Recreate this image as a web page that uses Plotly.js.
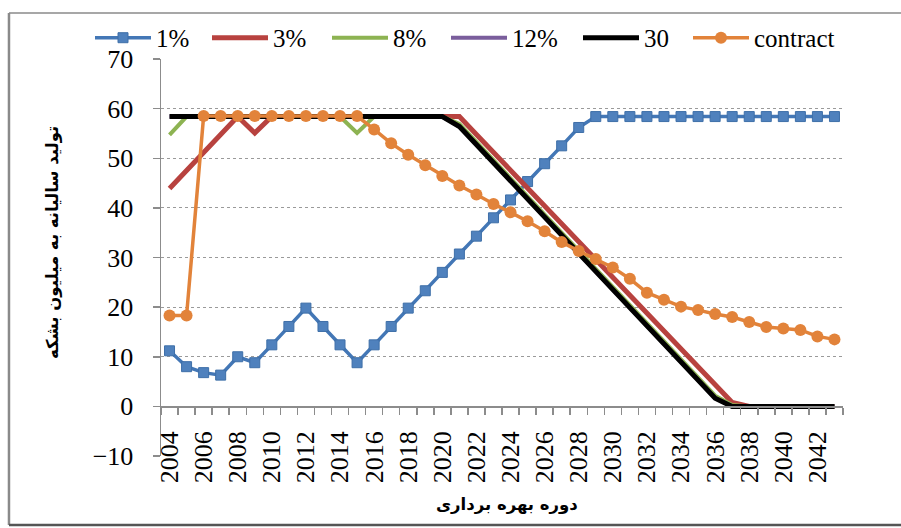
<!DOCTYPE html>
<html>
<head>
<meta charset="utf-8">
<script src="https://cdn.plot.ly/plotly-3.0.1.min.js"></script>
<style>html,body{margin:0;padding:0;background:#fff;}#chart{width:901px;height:528px;}</style>
</head>
<body>
<div id="chart"></div>
<script>
const years = [2004,2005,2006,2007,2008,2009,2010,2011,2012,2013,2014,2015,2016,2017,2018,2019,2020,2021,2022,2023,2024,2025,2026,2027,2028,2029,2030,2031,2032,2033,2034,2035,2036,2037,2038,2039,2040,2041,2042,2043];
const tickYears = [2004,2006,2008,2010,2012,2014,2016,2018,2020,2022,2024,2026,2028,2030,2032,2034,2036,2038,2040,2042];
const seriesNames = ['1%','3%','8%','12%','30','contract'];

const s1 = [11.2,8.0,6.8,6.3,10.0,8.8,12.4,16.1,19.8,16.1,12.4,8.8,12.4,16.1,19.8,23.3,27.0,30.7,34.3,38.0,41.6,45.3,48.9,52.5,56.2,58.4,58.4,58.4,58.4,58.4,58.4,58.4,58.4,58.4,58.4,58.4,58.4,58.4,58.4,58.4];
const s3 = [43.9,47.5,51.1,54.7,58.4,55.1,58.4,58.4,58.4,58.4,58.4,58.4,58.4,58.4,58.4,58.4,58.4,58.4,54.8,51.2,47.6,44.0,40.4,36.8,33.2,29.6,26.0,22.4,18.8,15.2,11.6,8.0,4.4,0.8,0,0,0,0,0,0];
const s8 = [54.7,58.4,58.4,58.4,58.4,58.4,58.4,58.4,58.4,58.4,58.4,55.1,58.4,58.4,58.4,58.4,58.4,56.9,53.25,49.6,45.95,42.3,38.65,35.0,31.35,27.7,24.05,20.4,16.75,13.1,9.45,5.8,2.15,0.3,0,0,0,0,0,0];
const s12 = [58.4,58.4,58.4,58.4,58.4,58.4,58.4,58.4,58.4,58.4,58.4,58.4,58.4,58.4,58.4,58.4,58.4,56.4,52.75,49.1,45.45,41.8,38.15,34.5,30.85,27.2,23.55,19.9,16.25,12.6,8.95,5.3,1.65,0,0,0,0,0,0,0];
const s30 = [58.4,58.4,58.4,58.4,58.4,58.4,58.4,58.4,58.4,58.4,58.4,58.4,58.4,58.4,58.4,58.4,58.4,56.4,52.75,49.1,45.45,41.8,38.15,34.5,30.85,27.2,23.55,19.9,16.25,12.6,8.95,5.3,1.65,0,0,0,0,0,0,0];
const contract = [18.3,18.3,58.5,58.5,58.5,58.5,58.5,58.5,58.5,58.5,58.5,58.5,55.8,53.0,50.7,48.6,46.4,44.5,42.7,40.8,39.1,37.3,35.3,33.1,31.3,29.7,28.0,25.7,22.9,21.5,20.1,19.4,18.6,18.0,17.0,16.0,15.7,15.4,14.1,13.5];

const serif = 'Liberation Serif, Times New Roman, serif';
const arab = 'DejaVu Sans, Noto Sans, sans-serif';

const traces = [
  {x: years, y: s1, name: seriesNames[0], legend: 'legend', mode: 'lines+markers', line: {color: '#4377B6', width: 3.5},
   marker: {symbol: 'square', size: 10, color: '#4F81BD', line: {color: '#3E6FA8', width: 1}}},
  {x: years, y: s3, name: seriesNames[1], legend: 'legend2', mode: 'lines', line: {color: '#B8423F', width: 5}},
  {x: years, y: s8, name: seriesNames[2], legend: 'legend3', mode: 'lines', line: {color: '#8DB352', width: 4}},
  {x: years, y: s12, name: seriesNames[3], legend: 'legend4', mode: 'lines', line: {color: '#7A5E9C', width: 4}},
  {x: years, y: s30, name: seriesNames[4], legend: 'legend5', mode: 'lines', line: {color: '#000000', width: 5}},
  {x: years, y: contract, name: seriesNames[5], legend: 'legend6', mode: 'lines+markers', line: {color: '#E2833A', width: 3.5},
   marker: {symbol: 'circle', size: 12, color: '#E2833A'}}
];

function leg(px) {
  return {orientation: 'h', x: (px - 161) / 682, xanchor: 'left', y: 1.053, yanchor: 'middle',
    font: {family: serif, size: 25, color: '#000'}, bgcolor: 'rgba(0,0,0,0)', itemwidth: 56};
}

const layout = {
  width: 901, height: 528,
  margin: {l: 161, r: 58, t: 59, b: 72, autoexpand: false},
  paper_bgcolor: '#ffffff', plot_bgcolor: '#ffffff',
  showlegend: true,
  legend: leg(90),
  legend2: leg(207),
  legend3: leg(327),
  legend4: leg(446),
  legend5: leg(578),
  legend6: leg(688),
  xaxis: {
    type: 'linear', range: [2003.5, 2043.5], anchor: 'free', position: 0.125,
    tickmode: 'array', tickvals: tickYears, ticktext: tickYears.map(String),
    tickangle: -90, ticks: 'outside', ticklen: 7, tickcolor: 'rgba(0,0,0,0)',
    ticklabelstandoff: 6,
    tickfont: {family: serif, size: 26, color: '#000'},
    minor: {tick0: 2003.5, dtick: 1, ticks: 'outside', ticklen: 7, tickcolor: '#8c8c8c', tickwidth: 1.5, showgrid: false},
    showline: true, linecolor: '#8c8c8c', linewidth: 1.5, showgrid: false, zeroline: false, fixedrange: true
  },
  yaxis: {
    range: [-10, 70], tickmode: 'linear', tick0: -10, dtick: 10,
    ticks: 'outside', ticklen: 7, tickcolor: '#8c8c8c', tickwidth: 1.5,
    ticklabelstandoff: 14,
    tickfont: {family: serif, size: 26, color: '#000'},
    showline: true, linecolor: '#8c8c8c', linewidth: 1.5,
    showgrid: true, gridcolor: '#9a9a9a', griddash: 'dot', gridwidth: 1,
    zeroline: false, fixedrange: true
  },
  annotations: [
    {text: '<b>تولید سالیانه به میلیون بشکه</b>', xref: 'paper', yref: 'paper', x: -0.158, y: 0.537,
     xanchor: 'center', yanchor: 'middle',
     textangle: -90, showarrow: false, font: {family: arab, size: 16.5, color: '#000'}},
    {text: '<b>دوره بهره برداری</b>', xref: 'paper', yref: 'paper', x: 0.507, y: -0.123,
     xanchor: 'center', yanchor: 'middle',
     showarrow: false, font: {family: arab, size: 16.5, color: '#000'}}
  ],
  shapes: [
    {type: 'line', xref: 'paper', yref: 'paper', x0: -0.2229, x1: -0.2229, y0: 1.1159, y1: -0.1738,
     line: {color: '#8a8a8a', width: 2.5}},
    {type: 'line', xref: 'paper', yref: 'paper', x0: -0.2229, x1: 1.1, y0: 1.1159, y1: 1.1159,
     line: {color: '#8a8a8a', width: 1.5}},
    {type: 'line', xref: 'paper', yref: 'paper', x0: -0.2229, x1: 1.1, y0: -0.1738, y1: -0.1738,
     line: {color: '#555555', width: 2.5}}
  ]
};

Plotly.newPlot('chart', traces, layout, {displayModeBar: false, staticPlot: true});
</script>
</body>
</html>
